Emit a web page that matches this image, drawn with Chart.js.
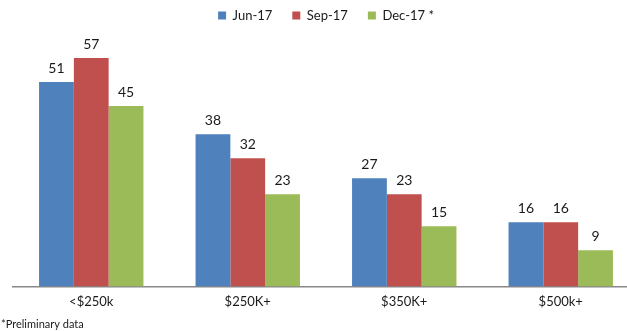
<!DOCTYPE html>
<html>
<head>
<meta charset="utf-8">
<script src="https://cdn.jsdelivr.net/npm/chart.js@4.4.0/dist/chart.umd.min.js"></script>
<style>
  html, body { margin: 0; padding: 0; background: #fff; overflow: hidden; }
  #wrap { width: 640px; height: 331px; position: relative; }
</style>
</head>
<body>
<div id="wrap"><canvas id="grafico"></canvas></div>
<script>
const categorias = ['<$250k', '$250K+', '$350K+', '$500k+'];
const jun17 = [51, 38, 27, 16];
const sep17 = [57, 32, 23, 16];
const dec17 = [45, 23, 15, 9];
const nota = '*Preliminary data';

// extra room between the legend and the bars
const espacoLegenda = {
  id: 'espacoLegenda',
  beforeInit(chart) {
    const fitOriginal = chart.legend.fit;
    chart.legend.fit = function () {
      fitOriginal.bind(chart.legend)();
      this.height += 14;
    };
  }
};

// writes each bar's value just above it, plus the footnote
const rotulosValores = {
  id: 'rotulosValores',
  afterDatasetsDraw(chart) {
    const ctx = chart.ctx;
    ctx.save();
    ctx.font = '14px Lato';
    ctx.fillStyle = '#1a1a1a';
    ctx.textAlign = 'center';
    ctx.textBaseline = 'bottom';
    chart.data.datasets.forEach((dataset, i) => {
      chart.getDatasetMeta(i).data.forEach((barra, j) => {
        ctx.fillText(dataset.data[j], barra.x, barra.y - 7);
      });
    });
    ctx.font = '11px Lato';
    ctx.textAlign = 'left';
    ctx.textBaseline = 'middle';
    ctx.fillText(nota, 1, 324);
    ctx.restore();
  }
};

const graficoFaixas = new Chart(document.querySelector('#grafico'), {
  type: 'bar',
  data: {
    labels: categorias,
    datasets: [
      { label: 'Jun-17', data: jun17, backgroundColor: '#4F81BD' },
      { label: 'Sep-17', data: sep17, backgroundColor: '#C0504D' },
      { label: 'Dec-17 *', data: dec17, backgroundColor: '#9BBB59' }
    ]
  },
  options: {
    responsive: true,
    maintainAspectRatio: false,
    animation: false,
    layout: { padding: { left: 13, right: 1, top: -11, bottom: 13 } },
    datasets: {
      bar: { categoryPercentage: 0.667, barPercentage: 1.0 }
    },
    plugins: {
      legend: {
        position: 'top',
        labels: {
          boxWidth: 8,
          boxHeight: 8,
          padding: 20,
          color: '#1a1a1a',
          font: { family: 'Lato', size: 13 }
        }
      },
      tooltip: { enabled: false }
    },
    scales: {
      x: {
        grid: { display: false, drawTicks: false },
        border: { display: true, color: '#888', width: 1.5 },
        ticks: { color: '#1a1a1a', font: { family: 'Lato', size: 13 }, padding: 8 }
      },
      y: {
        display: false,
        min: 0,
        max: 60
      }
    }
  },
  plugins: [espacoLegenda, rotulosValores]
});
</script>
</body>
</html>
